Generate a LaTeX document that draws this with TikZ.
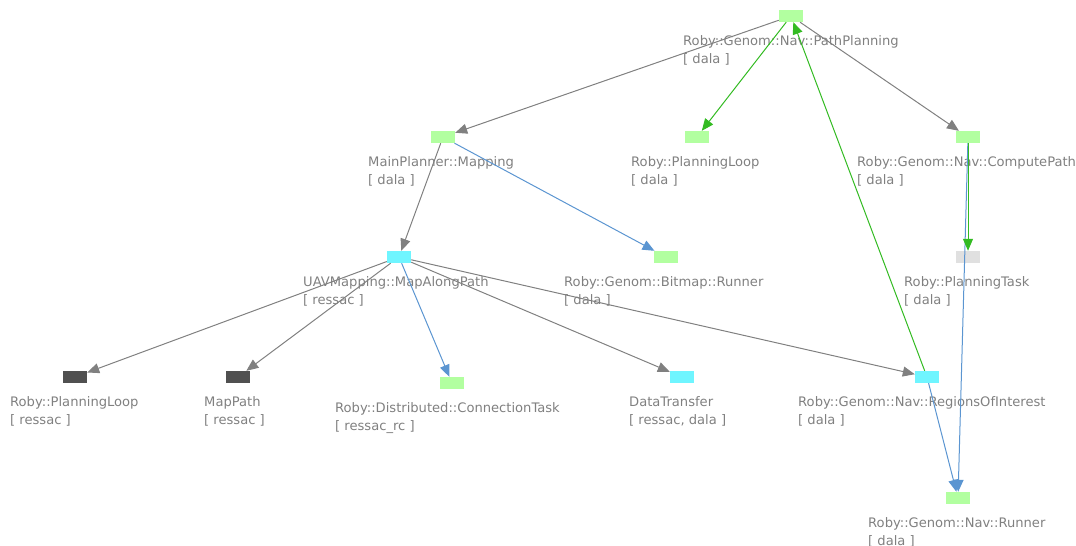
\documentclass[tikz,border=0pt]{standalone}
\usepackage{fontspec}
\setmainfont{DejaVu Sans}
\usetikzlibrary{arrows.meta}
\definecolor{txtgray}{RGB}{128,128,128}
\definecolor{boxgreen}{RGB}{178,255,160}
\definecolor{boxcyan}{RGB}{111,245,255}
\definecolor{boxdark}{RGB}{80,80,80}
\definecolor{boxlight}{RGB}{224,224,224}
\definecolor{edgegray}{RGB}{128,128,128}
\definecolor{edgeblue}{RGB}{91,149,209}
\definecolor{edgegreen}{RGB}{51,187,34}
\begin{document}
\begin{tikzpicture}[x=1pt,y=-1pt,
  box/.style={rectangle, minimum width=24pt, minimum height=12pt, inner sep=0pt, draw=none},
  gbox/.style={box, fill=boxgreen},
  cbox/.style={box, fill=boxcyan},
  dbox/.style={box, fill=boxdark},
  lbox/.style={box, fill=boxlight},
  lbl/.style={anchor=north west, inner sep=0pt, align=left, text=txtgray, font=\fontsize{13.1}{18.8}\selectfont},
  tip/.style={-{Triangle[length=12pt,width=10pt]}},
  eg/.style={draw=edgegray, line width=1pt, tip},
  eb/.style={draw=edgeblue, line width=1pt, tip},
  en/.style={draw=edgegreen, line width=1pt, tip}
]
\useasboundingbox (0,0) rectangle (1076,546);
% boxes
\node[gbox] (pp)  at (791,16) {};
\node[gbox] (map) at (443,137) {};
\node[gbox] (pl)  at (697,137) {};
\node[gbox] (cp)  at (968,137) {};
\node[lbox] (pt)  at (968,257) {};
\node[cbox] (mal) at (399,257) {};
\node[gbox] (br)  at (666,257) {};
\node[dbox] (plr) at (75,377) {};
\node[dbox] (mp)  at (238,377) {};
\node[gbox] (ct)  at (452,383) {};
\node[cbox] (dt)  at (682,377) {};
\node[cbox] (roi) at (927,377) {};
\node[gbox] (nr)  at (958,498) {};
% labels
\node[lbl] (ppl)  at (683,35)  {Roby::Genom::Nav::PathPlanning\\{[ dala ]}};
\node[lbl] (mapl) at (368,156) {MainPlanner::Mapping\\{[ dala ]}};
\node[lbl] (pll)  at (631,156) {Roby::PlanningLoop\\{[ dala ]}};
\node[lbl] (cpl)  at (857,156) {Roby::Genom::Nav::ComputePath\\{[ dala ]}};
\node[lbl] (ptl)  at (904,276) {Roby::PlanningTask\\{[ dala ]}};
\node[lbl] (mall) at (303,276) {UAVMapping::MapAlongPath\\{[ ressac ]}};
\node[lbl] (brl)  at (564,276) {Roby::Genom::Bitmap::Runner\\{[ dala ]}};
\node[lbl] (plrl) at (10,396)  {Roby::PlanningLoop\\{[ ressac ]}};
\node[lbl] (mpl)  at (204,396) {MapPath\\{[ ressac ]}};
\node[lbl] (ctl)  at (335,402) {Roby::Distributed::ConnectionTask\\{[ ressac\_rc ]}};
\node[lbl] (dtl)  at (629,396) {DataTransfer\\{[ ressac, dala ]}};
\node[lbl] (roil) at (798,396) {Roby::Genom::Nav::RegionsOfInterest\\{[ dala ]}};
\node[lbl] (nrl)  at (868,517) {Roby::Genom::Nav::Runner\\{[ dala ]}};
% edges
\draw[eg] (pp) -- (map);
\draw[eg] (pp) -- (cp);
\draw[eg] (map) -- (mal);
\draw[eg] (mal) -- (plr);
\draw[eg] (mal) -- (mp);
\draw[eg] (mal) -- (dt);
\draw[eg] (mal) -- (roi);
\draw[eb] (map) -- (br);
\draw[eb] (mal) -- (ct);
\draw[eb] (roi) -- (nr);
\draw[eb] (cp) -- (nr);
\draw[en] (pp) -- (pl);
\draw[en] (cp) -- (pt);
\draw[en] (roi) -- (pp);
\end{tikzpicture}
\end{document}
